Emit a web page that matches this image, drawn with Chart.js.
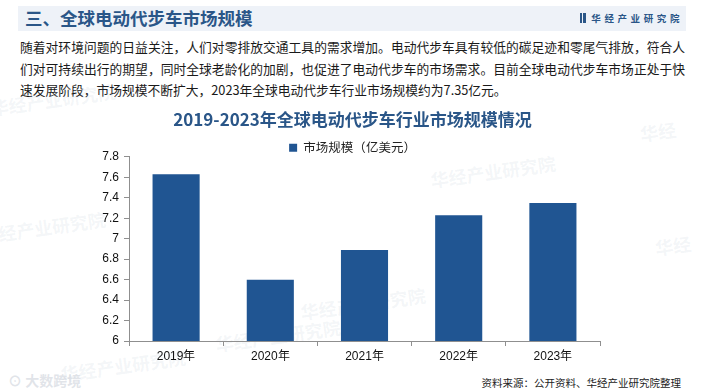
<!DOCTYPE html>
<html lang="zh-CN">
<head>
<meta charset="utf-8">
<script src="https://cdn.jsdelivr.net/npm/chart.js@4/dist/chart.umd.min.js"></script>
<style>
  body { margin: 0; width: 705px; height: 392px; background: #fff; overflow: hidden; position: relative;
         font-family: "Noto Sans CJK SC", "Liberation Sans", sans-serif; }
  .banner { position: absolute; left: 18px; top: 6px; width: 668px; height: 25px; background: #eef2f8; }
  .banner h1 { margin: 0; position: absolute; left: 7px; top: -1px; font-size: 17.5px; line-height: 26px;
               font-weight: 700; color: #2a5688; }
  .brand { position: absolute; right: 0; top: 0; height: 25px; line-height: 25px; font-size: 9.5px;
           font-weight: 700; color: #2a5688; letter-spacing: 3.6px; padding-right: 3px; }
  .brand i { display: inline-block; height: 10px; margin-right: 8px; vertical-align: -1px;
             border-left: 2px solid #2a5688; box-shadow: 3px 0 0 #2a5688; width: 1px; }
  .intro { position: absolute; left: 20px; top: 36px; width: 665px; margin: 0; font-size: 12.75px;
           line-height: 21.5px; color: #1a1a1a; text-align: justify; }
  .wm { position: absolute; font-size: 18px; font-weight: 700; color: rgba(140, 160, 190, 0.1);
        transform: rotate(-8deg); white-space: nowrap; pointer-events: none; }
  #wrap { position: absolute; left: 0; top: 100px; width: 705px; height: 266px; }
  .source { position: absolute; right: 24px; top: 375px; font-size: 10.5px; color: #222; }
  .dskj { position: absolute; left: 8px; top: 370px; font-size: 14px; font-weight: 700;
          color: rgba(205, 210, 218, 0.6); }
</style>
</head>
<body>
<div class="banner">
  <h1>三、全球电动代步车市场规模</h1>
  <div class="brand"><i></i>华经产业研究院</div>
</div>
<p class="intro">随着对环境问题的日益关注，人们对零排放交通工具的需求增加。电动代步车具有较低的碳足迹和零尾气排放，符合人们对可持续出行的期望，同时全球老龄化的加剧，也促进了电动代步车的市场需求。目前全球电动代步车市场正处于快速发展阶段，市场规模不断扩大，2023年全球电动代步车行业市场规模约为7.35亿元。</p>

<div class="wm" style="left:-10px;top:86px;">华经产业研究院</div>
<div class="wm" style="left:430px;top:158px;">华经产业研究院</div>
<div class="wm" style="left:-20px;top:214px;">华经产业研究院</div>
<div class="wm" style="left:215px;top:322px;">华经产业研究院</div>
<div class="wm" style="left:655px;top:232px;">华经</div>
<div class="wm" style="left:640px;top:118px;">华经</div>
<div class="wm" style="left:300px;top:290px;">华经产业研究院</div>
<div class="wm" style="left:60px;top:352px;">华经产业研究院</div>

<div id="wrap"><canvas id="marketChart"></canvas></div>

<div class="dskj">⊙ 大数跨境</div>
<div class="source">资料来源：公开资料、华经产业研究院整理</div>

<script>
  // 数据
  const years = ["2019年", "2020年", "2021年", "2022年", "2023年"];
  const marketSize = [7.63, 6.60, 6.89, 7.23, 7.35];
  const seriesName = "市场规模（亿美元）";
  const yMin = 6;
  const yMax = 7.8;
  const yStep = 0.2;

  const axisColor = "#8f8f8f";
  const barColor = "#205592";

  // titre et légende centrés sur toute la largeur, légende un peu plus bas
  const headerFix = {
    id: "headerFix",
    afterLayout(chart) {
      chart.titleBlock.right = chart.width;
      chart.legend.right = chart.width;
      chart.legend.top += 7;
      chart.legend.bottom += 7;
    }
  };

  const ctx = document.getElementById("marketChart").getContext("2d");
  new Chart(ctx, {
    type: "bar",
    data: {
      labels: years,
      datasets: [{
        label: seriesName,
        data: marketSize,
        backgroundColor: barColor,
        borderWidth: 0,
        categoryPercentage: 1,
        barPercentage: 0.5
      }]
    },
    options: {
      responsive: true,
      maintainAspectRatio: false,
      animation: false,
      layout: { padding: { left: 0, right: 105, top: 0, bottom: 0 } },
      plugins: {
        title: {
          display: true,
          text: "2019-2023年全球电动代步车行业市场规模情况",
          color: "#2a5688",
          font: { family: "'Noto Sans CJK SC', sans-serif", size: 17, weight: "bold" },
          padding: { top: 9, bottom: 5 }
        },
        legend: {
          display: true,
          labels: {
            boxWidth: 8,
            boxHeight: 8,
            padding: 0,
            color: "#222",
            font: { family: "'Noto Sans CJK SC', sans-serif", size: 12.5 }
          }
        },
        tooltip: { enabled: false }
      },
      scales: {
        x: {
          grid: { drawOnChartArea: false, drawTicks: true, tickLength: 5, color: axisColor },
          border: { color: axisColor },
          ticks: { color: "#111", padding: 3, font: { family: "'Liberation Sans', sans-serif", size: 12 } },
          afterFit: function (scale) { scale.height = 25; }
        },
        y: {
          min: yMin,
          max: yMax,
          grid: { drawOnChartArea: false, drawTicks: true, tickLength: 5, color: axisColor },
          border: { color: axisColor },
          ticks: {
            stepSize: yStep,
            color: "#111",
            padding: 5,
            font: { family: "'Liberation Sans', sans-serif", size: 12 },
            callback: function (value) { return String(parseFloat(value.toFixed(1))); }
          },
          afterFit: function (scale) { scale.width = 129; }
        }
      }
    },
    plugins: [headerFix]
  });
</script>
</body>
</html>
